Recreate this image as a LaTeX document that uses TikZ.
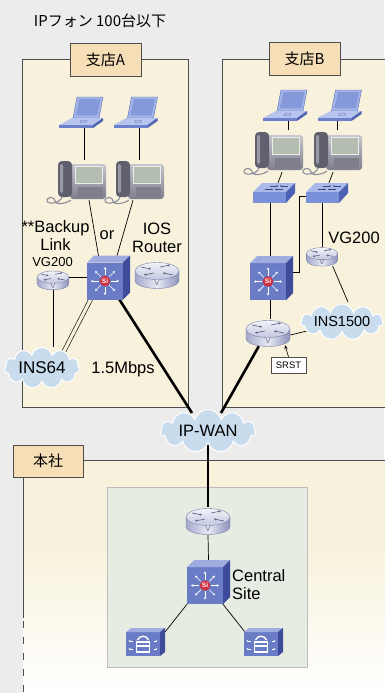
\documentclass[tikz,border=0pt]{standalone}
\usepackage{fontspec}
\setmainfont{Liberation Sans}
\newfontfamily\jpfont{Noto Sans CJK JP}
\usetikzlibrary{shapes.symbols,arrows.meta,calc}
\pgfdeclarelayer{back}
\pgfdeclarelayer{wires}
\pgfsetlayers{back,wires,main}

% page and panels
\definecolor{bgGray}{HTML}{ECECEC}
\definecolor{panelCream}{HTML}{F8F2DC}
\definecolor{tabPeach}{HTML}{F6DEB7}
\definecolor{panelLine}{HTML}{4D4D4D}
\definecolor{siteGreen}{HTML}{E7ECE3}
\definecolor{siteLine}{HTML}{BDBDBD}
\definecolor{cloudBlue}{HTML}{C8DCEE}
% layer-3 switch / voice box
\definecolor{siFront}{HTML}{6A7CC6}
\definecolor{siTop}{HTML}{A0ACDF}
\definecolor{siSide}{HTML}{3D4B9A}
\definecolor{siRed}{HTML}{D2303C}
% workgroup switch
\definecolor{lTop}{HTML}{A8B9EA}
\definecolor{lFront}{HTML}{7A90D8}
\definecolor{lSide}{HTML}{4C61B4}
\definecolor{lMark}{HTML}{3A4A80}
% laptop
\definecolor{lapFrame}{HTML}{A4B5E8}
\definecolor{lapEdge}{HTML}{5468B8}
\definecolor{lapScreen}{HTML}{8599DA}
\definecolor{lapBase}{HTML}{B6C4EE}
\definecolor{lapFrontC}{HTML}{6C80CC}
\definecolor{lapSide}{HTML}{4E62B2}
% ip phone
\definecolor{phDark}{HTML}{5F5F6E}
\definecolor{phMid}{HTML}{7E7E8E}
\definecolor{phLight}{HTML}{C6C6CE}
\definecolor{phScreen}{HTML}{B3BDB0}
\definecolor{phCord}{HTML}{8C8C9C}
% router
\definecolor{rtrTopA}{HTML}{F2F3F9}
\definecolor{rtrTopB}{HTML}{C3C7DF}
\definecolor{rtrSideL}{HTML}{A3A8CC}
\definecolor{rtrSideM}{HTML}{E8EAF4}
\definecolor{rtrSideR}{HTML}{8B91BA}
\definecolor{rtrEdge}{HTML}{7C82AA}
\definecolor{rtrMark}{HTML}{5A5F7E}

\tikzset{
  link/.style={line width=0.7pt, black},
  trunk/.style={line width=2.6pt, black},
  panel/.style={draw=panelLine, line width=0.9pt, fill=panelCream},
  tab/.style={draw=panelLine, line width=0.9pt, fill=tabPeach, minimum width=71pt,
    minimum height=33pt, inner sep=0pt, font=\jpfont\fontsize{15}{15}\selectfont},
  lbl/.style={font=\fontsize{16.5}{18}\selectfont, align=center, inner sep=0pt},
  cloudnode/.style={cloud, cloud puffs=11, cloud ignores aspect, fill=cloudBlue,
    draw=white, line width=1pt, inner sep=0pt, font=\fontsize{16.5}{18}\selectfont},
  dev/.style 2 args={inner sep=0pt, minimum width=#1, minimum height=#2},
  % router: 44 x 27
  router/.pic={
    \path[left color=rtrSideL, right color=rtrSideR, middle color=rtrSideM,
      draw=rtrEdge, line width=0.4pt]
      (-22,-4) -- (-22,5) .. controls (-22,16.3) and (22,16.3) .. (22,5) -- (22,-4) -- cycle;
    \path[top color=rtrTopA, bottom color=rtrTopB, draw=rtrEdge, line width=0.4pt]
      (0,-4) ellipse [x radius=22, y radius=8.5];
    \draw[rtrMark, line width=0.6pt, -{Stealth[length=2pt,width=2.2pt]}] (-16,-8) -- (-6,-6);
    \draw[rtrMark, line width=0.6pt, -{Stealth[length=2pt,width=2.2pt]}] (16,0) -- (6,-2);
    \draw[rtrMark, line width=0.6pt, -{Stealth[length=2pt,width=2.2pt]}] (3,-8) -- (13,-10);
    \draw[rtrMark, line width=0.6pt, -{Stealth[length=2pt,width=2.2pt]}] (-3,-2) -- (-13,0);
    \node[text=rtrMark, font=\fontsize{7}{7}\selectfont, inner sep=0pt] at (0,8) {V};
  },
  % layer-3 switch: 43 x 44
  siswitch/.pic={
    \fill[siFront] (-21.5,-15) rectangle (14.5,22);
    \fill[siTop] (-21.5,-15) -- (-14.5,-22) -- (21.5,-22) -- (14.5,-15) -- cycle;
    \fill[siSide] (14.5,-15) -- (21.5,-22) -- (21.5,15) -- (14.5,22) -- cycle;
    \foreach \a in {0,45,...,315}{
      \draw[white, line width=0.7pt, -{Stealth[length=2.4pt,width=2.6pt]}]
        ($(-3.5,3.5)+(\a:5.8)$) -- ($(-3.5,3.5)+(\a:14)$);
    }
    \fill[siRed] (-3.5,3.5) circle (5.2);
    \node[text=white, font=\bfseries\fontsize{6.5}{6.5}\selectfont, inner sep=0pt] at (-3.5,3.5) {Si};
  },
  % workgroup switch: 42 x 20
  wgswitch/.pic={
    \fill[lTop] (-21,-1) -- (-12,-10) -- (21,-10) -- (12,-1) -- cycle;
    \fill[lFront] (-21,-1) rectangle (12,10);
    \fill[lSide] (12,-1) -- (21,-10) -- (21,0) -- (12,10) -- cycle;
    \draw[lMark, line width=0.45pt, -{Stealth[length=1.6pt,width=1.8pt]}] (-9,-3.5) -- (-1,-3.5);
    \draw[lMark, line width=0.45pt, -{Stealth[length=1.6pt,width=1.8pt]}] (9,-3.5) -- (1,-3.5);
    \draw[lMark, line width=0.45pt, -{Stealth[length=1.6pt,width=1.8pt]}] (-4,-7) -- (4,-7);
    \draw[lMark, line width=0.45pt, -{Stealth[length=1.6pt,width=1.8pt]}] (14,-7) -- (6,-7);
  },
  % laptop: 44 x 31
  laptop/.pic={
    \path[fill=lapFrame, draw=lapEdge, line width=0.4pt]
      (-4,-15.5) -- (22,-15.5) -- (18,5.5) -- (-8,5.5) -- cycle;
    \fill[lapScreen] (-1.5,-13.5) -- (19.5,-13.5) -- (16.3,2.8) -- (-5.2,2.8) -- cycle;
    \fill[lapBase] (-22,12.5) -- (-9,5.5) -- (22,5.5) -- (12,12.5) -- cycle;
    \fill[lapFrontC] (-22,12.5) rectangle (12,15.5);
    \fill[lapSide] (12,12.5) -- (22,5.5) -- (22,8.5) -- (12,15.5) -- cycle;
    \draw[lapEdge, line width=0.3pt] (-1,10) -- (5,10) -- (6,8) -- (0,8) -- cycle;
  },
  % ip phone: 60 x 40
  ipphone/.pic={
    \path[top color=phLight, bottom color=phMid, rounded corners=3pt] (-6,-16) rectangle (30,19);
    \fill[phDark, rounded corners=4pt] (-18,-19) rectangle (-4,17);
    \fill[phMid!80!white, rounded corners=2pt] (-16,-16) rectangle (-13,13);
    \fill[phScreen] (-1,-14) rectangle (26,3);
    \draw[white!85!gray, line width=0.9pt] (-1,-14) rectangle (26,3);
    \fill[phDark!80!white] (2,7) rectangle (27,17);
    \draw[phCord, line width=1.1pt]
      (-14,17) .. controls (-16,24) and (-30,25) .. (-29,20)
      .. controls (-28,16) and (-21,17) .. (-21,21)
      .. controls (-21,25) and (-10,24) .. (-5,20);
  },
  % voice box: 39 x 28
  vbox/.pic={
    \fill[siFront] (-19.5,-10) rectangle (14.5,14);
    \fill[siTop] (-19.5,-10) -- (-14.5,-14) -- (19.5,-14) -- (14.5,-10) -- cycle;
    \fill[siSide] (14.5,-10) -- (19.5,-14) -- (19.5,10) -- (14.5,14) -- cycle;
    \draw[white, line width=1.1pt] (-9,0) rectangle (4,10);
    \draw[white, line width=1.1pt] (-9,4) -- (4,4);
    \draw[white, line width=1.4pt] (-8,-2) .. controls (-6,-7) and (1,-7) .. (3,-2);
    \foreach \yy in {-1,7}{
      \draw[white, line width=0.6pt, -{Stealth[length=1.8pt,width=2pt]}] (-13,\yy) -- (-17,\yy);
      \draw[white, line width=0.6pt, -{Stealth[length=1.8pt,width=2pt]}] (8,\yy) -- (12,\yy);
    }
  },
}

\begin{document}
\begin{tikzpicture}[x=1pt,y=-1pt]
\useasboundingbox (0,0) rectangle (384,693);

% ---------- backgrounds and site frames ----------
\begin{pgfonlayer}{back}
  \fill[bgGray] (0,0) rectangle (384,693);
  \draw[panel] (22,59) rectangle (188,407);
  \draw[panel] (222,59) rectangle (392,407);
  \fill[panelCream] (23,460) rectangle (392,545);
  \shade[top color=panelCream, bottom color=white] (23,545) rectangle (392,694);
  \draw[panelLine, line width=0.9pt] (392,460) -- (23,460) -- (23,618);
  \draw[panelLine, line width=0.9pt, dash pattern=on 7pt off 9pt] (23,621) -- (23,693);
  \draw[siteLine, fill=siteGreen, line width=0.8pt] (107,487) rectangle (307,667);
\end{pgfonlayer}

% ---------- titles and tabs ----------
\node[font=\jpfont\fontsize{15}{16}\selectfont, inner sep=0pt] (title) at (100,21) {IPフォン 100台以下};
\node[tab] (tabA) at (105.5,59.5) {支店A};
\node[tab] (tabB) at (304.5,59) {支店B};
\node[tab, minimum width=70pt, minimum height=32pt] (tabHQ) at (48,461) {本社};

% ---------- branch A ----------
\node[dev={44pt}{31pt}] (lapA1) at (84,112.5) {};
\node[dev={44pt}{31pt}] (lapA2) at (139,112.5) {};
\node[dev={60pt}{40pt}] (phA1) at (76,180) {};
\node[dev={60pt}{40pt}] (phA2) at (134,180) {};
\node[dev={43pt}{43pt}] (swA) at (108.5,277.5) {};
\node[dev={32pt}{20pt}] (vgA) at (53,277) {};
\node[dev={44pt}{27pt}] (iosA) at (157,275) {};
\node[cloudnode, minimum width=75pt, minimum height=41pt, font=\fontsize{17}{18}\selectfont] (ins64) at (42,368) {INS64};

\pic at ($(lapA1)+(-3,0)$) {laptop};
\pic at ($(lapA2)+(-3.5,0)$) {laptop};
\pic at (phA1) {ipphone};
\pic at (phA2) {ipphone};
\pic at (swA) {siswitch};
\pic[scale=0.72] at ($(vgA)+(0,3)$) {router};
\pic at (iosA) {router};

\node[lbl] (backupTxt) at (55.5,236) {**Backup\\Link};
\node[font=\fontsize{13}{14}\selectfont, inner sep=0pt] (vgAtxt) at (52.5,262) {VG200};
\node[lbl] (orTxt) at (107,235) {or};
\node[lbl] (iosTxt) at (157,238) {IOS\\Router};
\node[lbl] (mbpsTxt) at (123,369) {1.5Mbps};

% ---------- branch B ----------
\node[dev={44pt}{31pt}] (lapB1) at (288,105.5) {};
\node[dev={44pt}{31pt}] (lapB2) at (337,105.5) {};
\node[dev={60pt}{42pt}] (phB1) at (273,151) {};
\node[dev={60pt}{42pt}] (phB2) at (332,151) {};
\node[dev={42pt}{20pt}] (sB1) at (274,193) {};
\node[dev={42pt}{20pt}] (sB2) at (327,193) {};
\node[dev={43pt}{44pt}] (swB) at (270,278) {};
\node[dev={31pt}{19pt}] (vgB) at (322,256.5) {};
\node[dev={44pt}{28pt}] (rB) at (270,333) {};
\node[cloudnode, minimum width=82pt, minimum height=36pt, font=\fontsize{14.5}{16}\selectfont] (ins1500) at (342,322) {INS1500};
\node[draw=panelLine, fill=white, line width=0.6pt, minimum width=35pt, minimum height=16pt,
      inner sep=0pt, font=\fontsize{9.4}{10}\selectfont] (srst) at (288.5,365) {SRST};

\pic at ($(lapB1)+(-3,0)$) {laptop};
\pic at ($(lapB2)+(2.5,0)$) {laptop};
\pic at (phB1) {ipphone};
\pic at (phB2) {ipphone};
\pic at (sB1) {wgswitch};
\pic at (sB2) {wgswitch};
\pic at ($(swB)+(1.5,0)$) {siswitch};
\pic[scale=0.71] at (vgB) {router};
\pic at ($(rB)+(-2,0)$) {router};

\node[lbl] (vgBtxt) at (354,238) {VG200};

% ---------- WAN and headquarters ----------
\node[cloudnode, minimum width=95pt, minimum height=43pt] (ipwan) at (208,431) {IP-WAN};
\node[dev={42pt}{28pt}] (rH) at (208,521) {};
\node[dev={43pt}{44pt}] (swH) at (208.5,582) {};
\node[dev={39pt}{28pt}] (vL) at (145.5,642) {};
\node[dev={39pt}{28pt}] (vR) at (263.5,642) {};
\pic at (rH) {router};
\pic at (swH) {siswitch};
\pic at (vL) {vbox};
\pic at (vR) {vbox};
\node[lbl, align=left, anchor=west] (centralTxt) at (232,585) {Central\\Site};

% ---------- connectors ----------
\begin{pgfonlayer}{wires}
  % branch A
  \draw[link] (lapA1.south) -- (lapA1.south |- phA1.north);
  \draw[link] (lapA2.south) -- (lapA2.south |- phA2.north);
  \draw[link] ($(phA1.south)+(13,0)$) -- ($(swA.north)+(-10,0)$);
  \draw[link] ($(phA2.south)+(-1,0)$) -- ($(swA.north)+(8.5,0)$);
  \draw[link] (vgA.east) -- (vgA.east -| swA.west);
  \draw[link] (vgA.south) -- (vgA.south |- ins64.north);
  \draw[link, double=panelCream, double distance=3.2pt, line width=0.6pt]
    ($(swA.south west)+(4,0)$) -- ($(ins64.center)+(20,-13)$);
  \draw[trunk] ($(swA.south east)+(-11,0)$) -- ($(ipwan.center)+(-16,-18)$);
  % branch B
  \draw[link] (lapB1.south) -- (lapB1.south |- phB1.north);
  \draw[link] (lapB2.south) -- (lapB2.south |- phB2.north);
  \draw[link] ($(phB1.south)+(9,0)$) -- ($(sB1.north)+(4,0)$);
  \draw[link] ($(phB2.south)+(1,0)$) -- ($(sB2.north)+(2,0)$);
  \draw[link] (swB.north |- sB1.south) -- (swB.north);
  \draw[link] ($(sB2.west)+(0,3)$) -- ++(-6,0) |- ($(swB.east)+(0,-6)$);
  \draw[link] (vgB.north |- sB2.south) -- (vgB.north);
  \draw[link] ($(vgB.south east)+(-5,0)$) -- ($(ins1500.center)+(6,-20)$);
  \draw[link] (swB.south) -- (rB.north);
  \draw[link] ($(rB.east)+(-2,2)$) -- ($(ins1500.center)+(-35,9)$);
  \draw[link, line width=0.6pt, -{Stealth[length=4pt,width=3.5pt]}] (srst.north) -- ($(rB.south)+(15,-2)$);
  \draw[trunk] ($(rB.south west)+(11,-1)$) -- ($(ipwan.center)+(13,-18)$);
  % headquarters
  \draw[trunk] (ipwan.south) -- (rH.north);
  \draw[link] (rH.south) -- (swH.north);
  \draw[link] ($(swH.south west)+(1,-1)$) -- ($(vL.north east)+(0,4)$);
  \draw[link] ($(swH.south east)+(-8,-1)$) -- ($(vR.north west)+(1,4)$);
\end{pgfonlayer}
\end{tikzpicture}
\end{document}
